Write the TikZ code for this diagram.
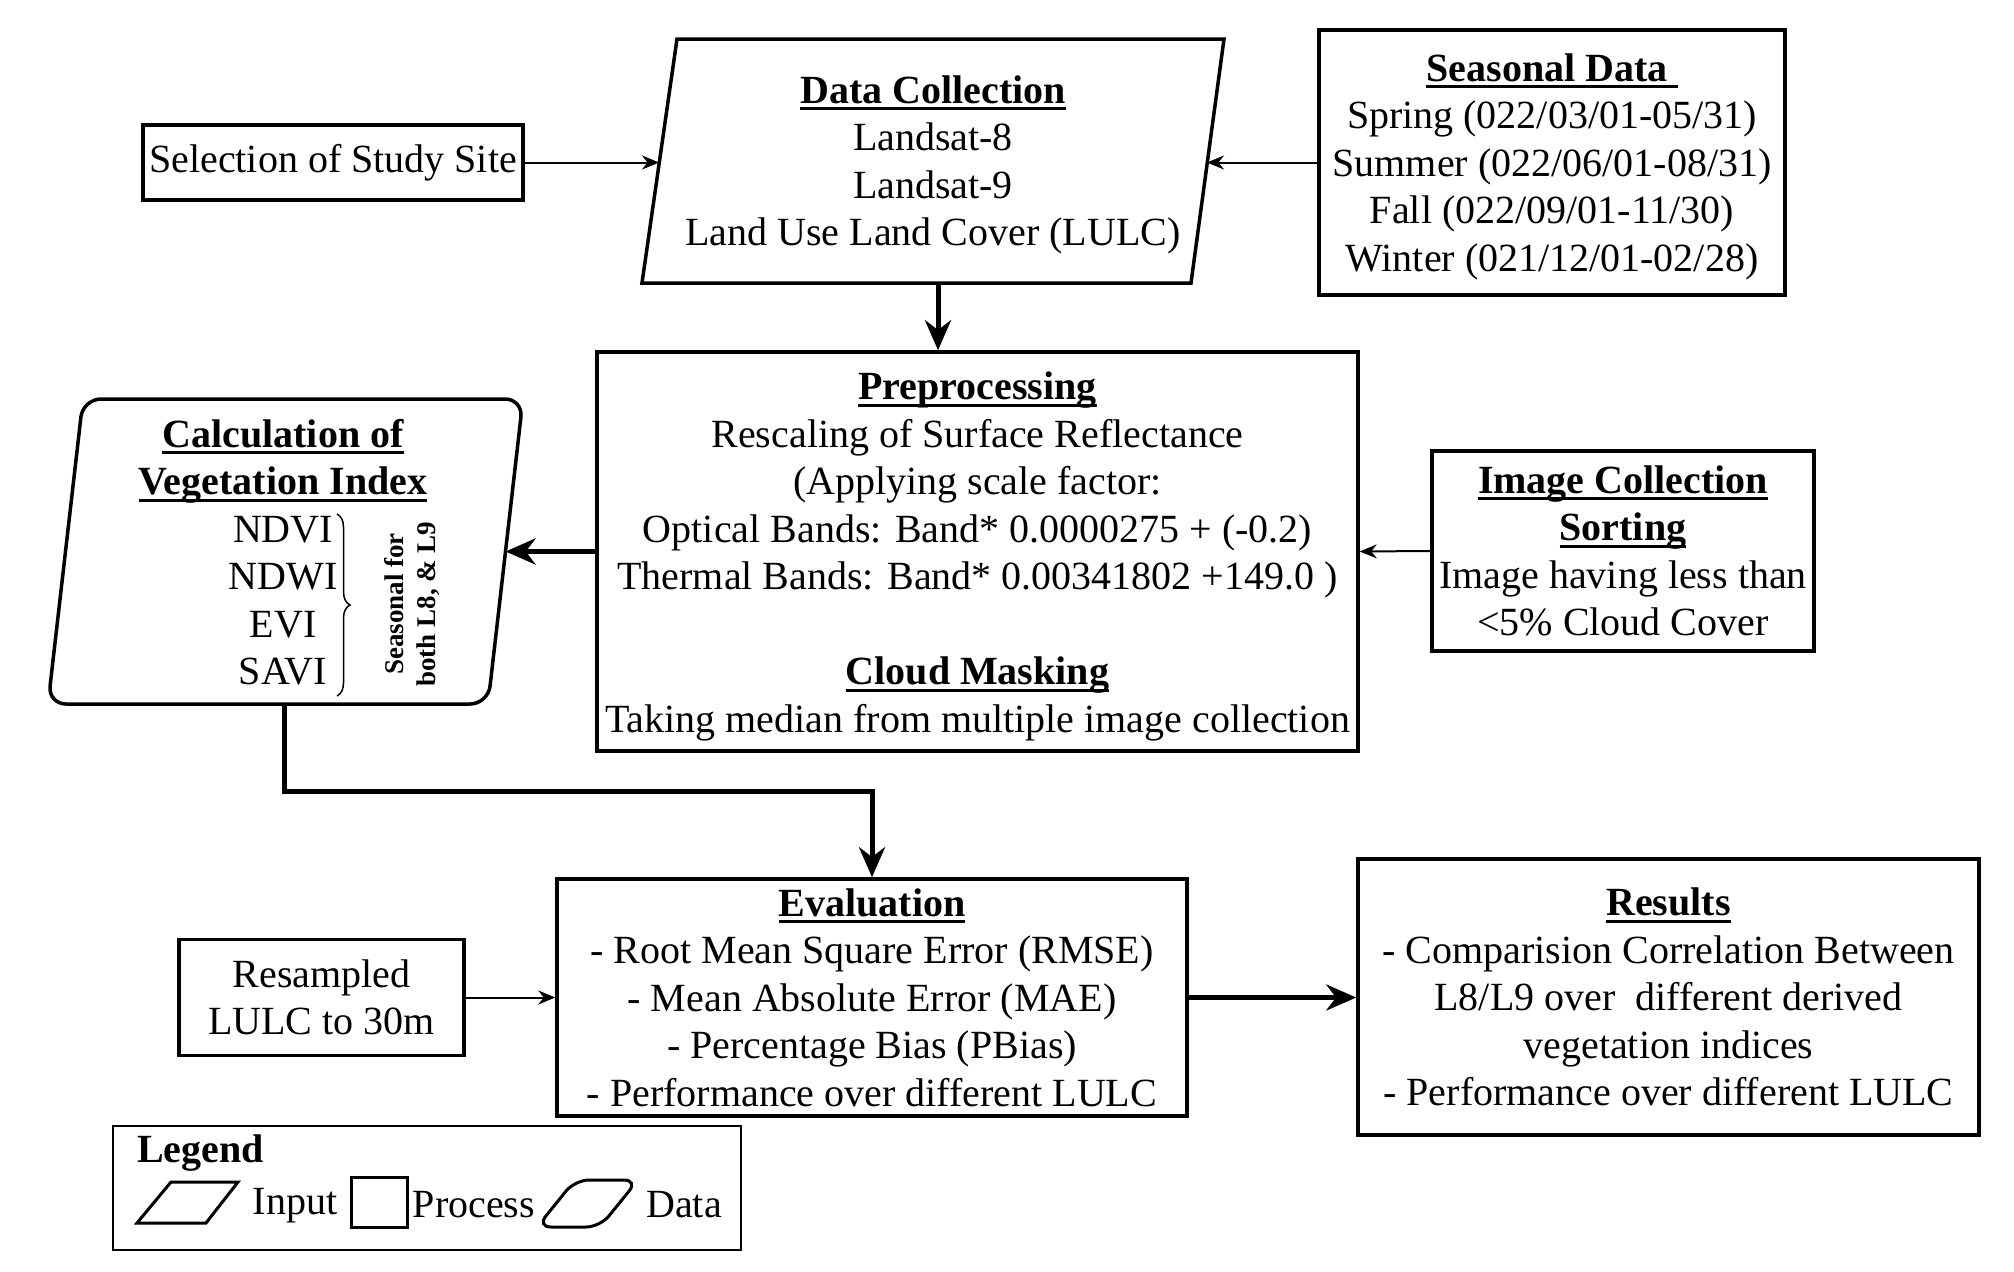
\documentclass[tikz,border=0pt]{standalone}
\usepackage{fontspec}
\setmainfont{Liberation Serif}
\usetikzlibrary{arrows.meta,decorations.pathreplacing,calc}
\newcommand\hd[1]{\textbf{\setbox0\hbox{#1}\rlap{\rule[-7pt]{\wd0}{3pt}}\box0}}
\begin{document}
\begin{tikzpicture}[x=1pt,y=-1pt,
  every node/.style={font=\fontsize{40}{47.5}\selectfont, inner sep=0pt, align=center},
  box/.style={draw, line width=3.5pt, inner sep=0pt},
  shp/.style={draw, line width=3.5pt, line join=miter},
  thinarrow/.style={line width=2pt, -{Stealth[length=17pt,width=14pt]}},
  thickarrow/.style={line width=5pt, -{Stealth[length=30pt,width=26pt]}},
]
\useasboundingbox (0,0) rectangle (2014,1272);

% Selection of study site
\node[box, minimum width=380pt, minimum height=75pt] (site) at (333,162.5) {Selection of Study Site};

% Data collection (input parallelogram)
\draw[shp] (677,39) -- (1224,39) -- (1191,283) -- (642,283) -- cycle;
\node (dc) at (933,165) {\hd{Data Collection}\\Landsat-8\\Landsat-9\\Land Use Land Cover (LULC)};
\coordinate (dcL) at (659,162.5);
\coordinate (dcR) at (1207,162.5);
\coordinate (dcB) at (938,283);

% Seasonal data
\node[box, minimum width=466pt, minimum height=265pt] (seas) at (1552,162.5) {};
\node (seast) at (1552,166.5)
  {\hd{Seasonal Data\ }\\Spring (022/03/01-05/31)\\Summer (022/06/01-08/31)\\Fall (022/09/01-11/30)\\Winter (021/12/01-02/28)};

% Preprocessing
\node[box, minimum width=761pt, minimum height=399pt] (pre) at (977.5,551.5) {};
\node (pret) at (977.5,556.5)
  {\hd{Preprocessing}\\Rescaling of Surface Reflectance\\(Applying scale factor:\\Optical Bands: Band* 0.0000275 + (-0.2)\\Thermal Bands: Band* 0.00341802 +149.0 )\\[47.5pt]\hd{Cloud Masking}\\Taking median from multiple image collection};

% Image collection sorting
\node[box, minimum width=382pt, minimum height=200pt] (ics) at (1623,551)
  {\hd{Image Collection}\\\hd{Sorting}\\Image having less than\\<5\% Cloud Cover};

% Calculation of vegetation index (data shape)
\draw[shp, rounded corners=18pt] (83,399) -- (523,399) -- (488,704) -- (48,704) -- cycle;
\node (calc) at (283,552) {\hd{Calculation of}\\\hd{Vegetation Index}\\NDVI\\NDWI\\EVI\\SAVI};
\draw[line width=1.5pt, decorate, decoration={brace, amplitude=13pt}] (337,514) -- (337,696);
\node[rotate=90, font=\fontsize{27}{32}\selectfont\bfseries] (seasl) at (412,604) {Seasonal for\\both L8, \& L9};
\coordinate (calcR) at (505.5,551.5);
\coordinate (calcB) at (284,704);

% Evaluation
\node[box, minimum width=630pt, minimum height=237pt] (eval) at (872,997.5)
  {\hd{Evaluation}\\- Root Mean Square Error (RMSE)\\- Mean Absolute Error (MAE)\\- Percentage Bias (PBias)\\- Performance over different LULC};

% Resampled
\node[box, minimum width=285pt, minimum height=116pt] (res) at (321.5,997.5) {Resampled\\LULC to 30m};

% Results
\node[box, minimum width=621pt, minimum height=276pt] (results) at (1668.5,997)
  {\hd{Results}\\- Comparision Correlation Between\\L8/L9 over~ different derived\\vegetation indices\\- Performance over different LULC};

% Connectors
\draw[thinarrow] (site.east) -- (dcL);
\draw[thinarrow] (seas.west) -- (dcR);
\draw[thickarrow] (dcB) -- (dcB |- pre.north);
\draw[thinarrow] (ics.west) -- (pre.east);
\draw[thickarrow] (pre.west) -- (calcR);
\draw[thickarrow] (calcB) -- ++(0,87) -| (eval.north);
\draw[thinarrow] (res.east) -- (res.east -| eval.west);
\draw[thickarrow] (eval.east) -- (eval.east -| results.west);

% Legend
\node[draw, line width=2pt, minimum width=628pt, minimum height=124pt] (legend) at (427,1188) {};
\node[anchor=west, font=\fontsize{40}{47.5}\selectfont\bfseries] (legt) at (137,1153) {Legend};
\draw[line width=3pt, line join=miter] (137,1223) -- (206,1223) -- (238,1182) -- (171,1182) -- cycle;
\node (lin) at (295,1206) {Input};
\node[draw, line width=3pt, minimum width=56pt, minimum height=50pt] (lsq) at (379,1202) {};
\node (lpr) at (474,1205) {Process};
\draw[line width=3pt, rounded corners=14pt] (537,1227) -- (600,1227) -- (638,1180) -- (575,1180) -- cycle;
\node (lda) at (684,1205) {Data};
\end{tikzpicture}
\end{document}
